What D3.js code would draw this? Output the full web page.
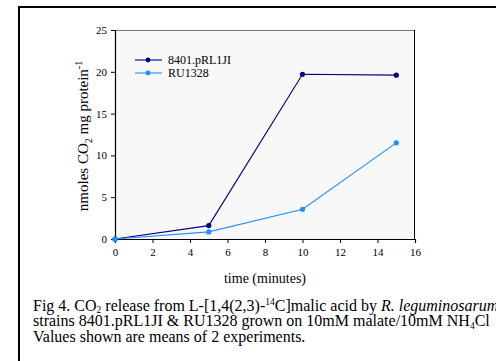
<!DOCTYPE html>
<html><head><meta charset="utf-8">
<script src="https://cdn.jsdelivr.net/npm/d3@7"></script>
<style>body{margin:0;background:#fff}svg text{font-family:'Liberation Serif','Times New Roman','DejaVu Serif',serif}</style>
</head><body>
<svg id="c" width="496" height="361"></svg>
<script>
const times = [0, 5, 10, 15];
const seriesNames = ["8401.pRL1JI", "RU1328"];
const series8401 = [0, 1.6, 19.7, 19.6];
const seriesRU = [0, 0.85, 3.55, 11.5];
const xTicks = [0, 2, 4, 6, 8, 10, 12, 14, 16];
const yTicks = [0, 5, 10, 15, 20, 25];
const colors = ["#000080", "#1e90ff"];
const FF = "'Liberation Serif','Times New Roman','DejaVu Serif',serif";

const svg = d3.select("#c");
svg.append("rect").attr("x", 19).attr("y", 7).attr("width", 500).attr("height", 400)
  .attr("fill", "none").attr("stroke", "#000").attr("stroke-width", 2);

const L = 115, R = 415, T = 30, B = 239;
const x = d3.scaleLinear().domain([0, 16]).range([L, R]);
const y = d3.scaleLinear().domain([0, 25]).range([B, T]);

svg.append("rect").attr("x", L).attr("y", T).attr("width", R - L).attr("height", B - T)
  .attr("fill", "#f8f8f8");
svg.append("line").attr("x1", L).attr("x2", R).attr("y1", T + 0.5).attr("y2", T + 0.5).attr("stroke", "#777").attr("stroke-width", 1);
svg.append("line").attr("x1", R - 0.5).attr("x2", R - 0.5).attr("y1", T).attr("y2", B).attr("stroke", "#000").attr("stroke-width", 1);

const gx = svg.append("g").attr("transform", `translate(0,${B})`)
  .call(d3.axisBottom(x).tickValues(xTicks).tickSize(4).tickPadding(5).tickFormat(d3.format("d")));
const gy = svg.append("g").attr("transform", `translate(${L},0)`)
  .call(d3.axisLeft(y).tickValues(yTicks).tickSize(4).tickPadding(4).tickFormat(d3.format("d")));
[gx, gy].forEach(g => {
  g.attr("font-family", FF);
  g.select(".domain").attr("stroke", "#000").attr("stroke-width", 1.2);
  g.selectAll(".tick line").attr("stroke", "#000");
  g.selectAll("text").attr("font-family", FF).attr("font-size", 11).attr("fill", "#000");
});

const data = [series8401, seriesRU];
const line = d3.line().x((d, i) => x(times[i])).y(d => y(d));
data.forEach((s, k) => {
  svg.append("path").datum(s).attr("d", line).attr("fill", "none")
    .attr("stroke", colors[k]).attr("stroke-width", 1.1);
  svg.selectAll(null).data(s).enter().append("circle")
    .attr("cx", (d, i) => x(times[i])).attr("cy", d => y(d)).attr("r", 2.6).attr("fill", colors[k]);
});

seriesNames.forEach((n, k) => {
  const ly = 60 + k * 13;
  svg.append("line").attr("x1", 135).attr("x2", 162).attr("y1", ly).attr("y2", ly).attr("stroke", colors[k]).attr("stroke-width", 1.1);
  svg.append("circle").attr("cx", 148).attr("cy", ly).attr("r", 2.4).attr("fill", colors[k]);
  svg.append("text").attr("x", 168).attr("y", ly + 4).attr("font-family", FF).attr("font-size", 12).text(n);
});

svg.append("text").attr("x", 265).attr("y", 283).attr("text-anchor", "middle").attr("font-family", FF).attr("font-size", 14).text("time (minutes)");
const yt = svg.append("text").attr("transform", `translate(88,136) rotate(-90)`).attr("text-anchor", "middle").attr("font-family", FF).attr("font-size", 15);
yt.append("tspan").text("nmoles CO");
yt.append("tspan").attr("font-size", 10).attr("dy", 4).text("2");
yt.append("tspan").attr("dy", -4).text(" mg protein");
yt.append("tspan").attr("font-size", 10).attr("dy", -6).text("-1");

const cap = svg.append("g").attr("font-size", 16).attr("font-family", FF);
const l1 = cap.append("text").attr("x", 33).attr("y", 310.5);
l1.append("tspan").text("Fig 4. CO");
l1.append("tspan").attr("font-size", 9.5).attr("dy", 2.5).text("2");
l1.append("tspan").attr("dy", -2.5).text(" release from L-[1,4(2,3)-");
l1.append("tspan").attr("font-size", 9.5).attr("dy", -6).text("14");
l1.append("tspan").attr("dy", 6).text("C]malic acid by ");
l1.append("tspan").attr("font-style", "italic").text("R. leguminosarum");
const l2 = cap.append("text").attr("x", 33).attr("y", 326);
l2.append("tspan").text("strains 8401.pRL1JI & RU1328 grown on 10mM malate/10mM NH");
l2.append("tspan").attr("font-size", 9.5).attr("dy", 2.5).text("4");
l2.append("tspan").attr("dy", -2.5).text("Cl");
cap.append("text").attr("x", 33).attr("y", 341.5).text("Values shown are means of 2 experiments.");
</script>
</body></html>
